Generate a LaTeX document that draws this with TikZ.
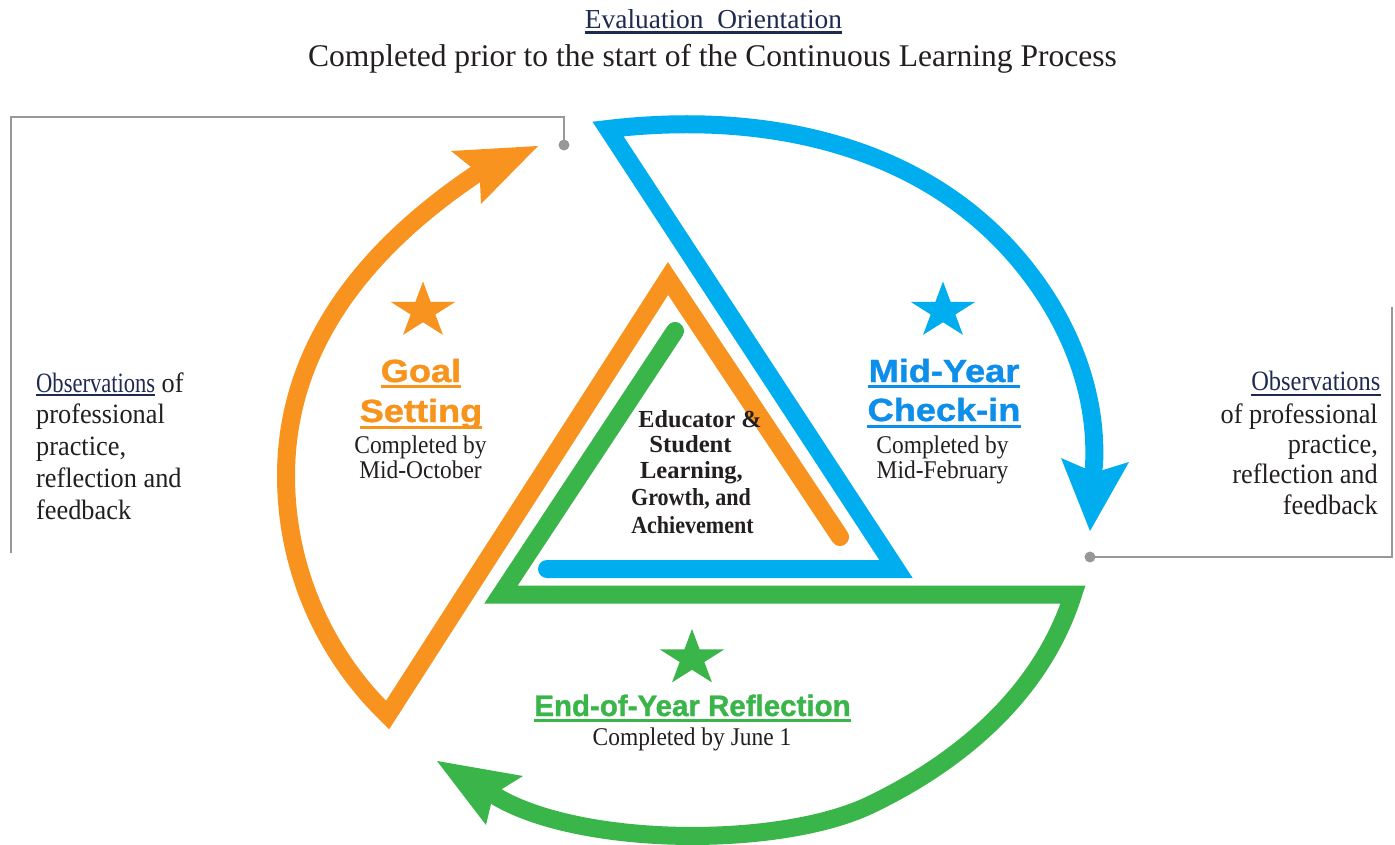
\documentclass[tikz,border=0pt]{standalone}
\usepackage{fontspec}
\usepackage{graphicx}
\usetikzlibrary{calc}
\setmainfont{Liberation Serif}
\newfontfamily\serifc{Liberation Serif}[FakeStretch=0.94]
\newfontfamily\serifs{Liberation Serif}[FakeStretch=0.92]
\newfontfamily\centerfont{Liberation Serif}[FakeStretch=0.9]
\newfontfamily\headfont{Liberation Sans}[FakeStretch=1.13,BoldFeatures={FakeBold=1.2}]
\newfontfamily\headfontb{Liberation Sans}[BoldFeatures={FakeBold=1.2}]
\definecolor{cOrange}{HTML}{F7931E}
\definecolor{cBlue}{HTML}{00AEEF}
\definecolor{cGreen}{HTML}{39B54A}
\definecolor{cGray}{HTML}{97989A}
\definecolor{cNavy}{HTML}{1F2A50}
\definecolor{cText}{HTML}{231F20}
\definecolor{cOrangeT}{HTML}{F7941D}
\definecolor{cBlueT}{HTML}{0D8EEA}
\definecolor{cGreenT}{HTML}{3AB54A}
\tikzset{
 band/.style={line width=18pt, line join=miter, miter limit=10, line cap=round},
 grayline/.style={cGray, line width=2.5pt},
 ttl/.style={anchor=base, inner sep=0pt, text=cText, font=\fontsize{31.55}{36}\selectfont},
 ttlA/.style={anchor=base, inner sep=0pt, text=cNavy, font=\fontsize{27.4}{32}\selectfont},
 obs/.style={inner sep=0pt, text=cText, font=\serifc\fontsize{28}{32}\selectfont},
 ctr/.style={anchor=base, inner sep=0pt, text=cText, font=\centerfont\bfseries\fontsize{24.5}{27}\selectfont},
 sub/.style={anchor=base, inner sep=0pt, text=cText, font=\serifs\fontsize{25.5}{28}\selectfont},
 head/.style={anchor=base, inner sep=0pt, font=\headfont\bfseries\fontsize{32}{36}\selectfont},
 headE/.style={anchor=base, inner sep=0pt, font=\headfontb\bfseries\fontsize{29.5}{34}\selectfont},
 uline/.style={line width=3pt},
 pics/starshape/.style={code={\fill[xscale=1.15] (-90:29.5) -- (-54:11.3) -- (-18:29.5) -- (18:11.3) -- (54:29.5) -- (90:11.3) -- (126:29.5) -- (162:11.3) -- (198:29.5) -- (234:11.3) -- cycle;}}
}
\newcommand\ulnode[3]{\draw[uline,#3] ($(#1.base west)+(0,#2)$) -- ($(#1.base east)+(0,#2)$);}
\begin{document}
\begin{tikzpicture}[x=1pt,y=-1pt]
\useasboundingbox (0,0) rectangle (1395,845);
\fill[white] (0,0) rectangle (1395,845);

% ---------- gray brackets ----------
\coordinate (gL) at (564,145);
\coordinate (gL1) at (564,117);
\coordinate (gL2) at (11,117);
\coordinate (gL3) at (11,553);
\draw[grayline] (gL) -- (gL1) -- (gL2) -- (gL3);
\fill[cGray] (gL) circle (5.5);
\coordinate (gR) at (1090,557);
\coordinate (gR1) at (1392,557);
\coordinate (gR2) at (1392,307);
\draw[grayline] (gR) -- (gR1) -- (gR2);
\fill[cGray] (gR) circle (5.5);

% ---------- blue ----------
\coordinate (bS) at (547,569);
\coordinate (bC) at (896,569);
\coordinate (bA) at (608,129);
\coordinate (bM) at (1018,259);
\coordinate (bE) at (1094,466);
\draw[band, cBlue] (bS) -- (bC) -- (bA) .. controls (760,111) and (919,142) .. (bM) .. controls (1068,318) and (1098,391) .. (bE);
\fill[cBlue] (1061,458) -- (1090,531) -- (1129,462) -- (1103,470) -- (1084,468) -- cycle;

% ---------- orange ----------
\coordinate (oS) at (840,537);
\coordinate (oA) at (668,278.5);
\coordinate (oE) at (475.5,174.5);
\draw[band, cOrange] (oS) -- (oA) -- plot[domain=133.95:180, samples=40] ({618+332*cos(\x)},{476+332*sin(\x)}) .. controls (286,347) and (365,249) .. (oE);
\fill[cOrange] (538,146) -- (451,151) -- (471,167) -- (480,182) -- (481,204) -- cycle;

% ---------- green ----------
\coordinate (gS) at (675,331);
\coordinate (gB) at (501,594.5);
\coordinate (gC) at (1073,594.5);
\coordinate (gM) at (870,805);
\coordinate (gE) at (497,797);
\draw[band, cGreen] (gS) -- (gB) -- (gC) .. controls (1042,692) and (962,761) .. (gM) .. controls (780,848) and (583,847) .. (gE);
\fill[cGreen] (437,761) -- (523,776) -- (502,789) -- (491,804) -- (486,825) -- cycle;

% ---------- stars ----------
\pic[cOrange] at (423,311) {starshape};
\pic[cBlue] at (943,311) {starshape};
\pic[cGreen] at (692,658.5) {starshape};

% ---------- title ----------
\node[ttlA] (t1) at (713.5,28.3) {Evaluation~ Orientation};
\ulnode{t1}{4}{cNavy, line width=2.6pt}
\node[ttl] (t2) at (712.5,67) {Completed prior to the start of the Continuous Learning Process};

% ---------- left observations ----------
\node[obs, anchor=base west, text=cNavy] (lo1) at (36,392) {\scalebox{0.857}[1]{Observations}};
\ulnode{lo1}{3}{cNavy, line width=2.7pt}
\node[obs, anchor=base west] (lo1b) at ($(lo1.base east)+(6,0)$) {of};
\node[obs, anchor=base west] (lo2) at (36,423) {professional};
\node[obs, anchor=base west] (lo3) at (36,455) {practice,};
\node[obs, anchor=base west] (lo4) at (36,487) {reflection and};
\node[obs, anchor=base west] (lo5) at (36,519) {feedback};

% ---------- right observations ----------
\node[obs, anchor=base east, text=cNavy] (ro1) at (1380.5,390) {\scalebox{0.929}[1]{Observations}};
\ulnode{ro1}{5}{cNavy, line width=2.8pt}
\node[obs, anchor=base east] (ro2) at (1378,423) {of professional};
\node[obs, anchor=base east] (ro3) at (1378,453) {practice,};
\node[obs, anchor=base east] (ro4) at (1378,483) {reflection and};
\node[obs, anchor=base east] (ro5) at (1378,514) {feedback};

% ---------- goal setting ----------
\node[head, text=cOrangeT] (g1) at (421,382) {Goal};
\ulnode{g1}{4}{cOrangeT}
\node[head, text=cOrangeT] (g2) at (421,422) {Setting};
\ulnode{g2}{5}{cOrangeT}
\node[sub] (g3) at (420.5,453) {Completed by};
\node[sub] (g4) at (420.5,478) {Mid-October};

% ---------- mid-year ----------
\node[head, text=cBlueT] (m1) at (944,382) {Mid-Year};
\ulnode{m1}{4}{cBlueT}
\node[head, text=cBlueT] (m2) at (944,421) {Check-in};
\ulnode{m2}{5}{cBlueT}
\node[sub] (m3) at (942.5,453) {Completed by};
\node[sub] (m4) at (942.5,478) {Mid-February};

% ---------- end-of-year ----------
\node[headE, text=cGreenT] (e1) at (692.5,716) {End-of-Year Reflection};
\ulnode{e1}{4.5}{cGreenT}
\node[sub] (e2) at (692,745) {Completed by June 1};

% ---------- center ----------
\node[ctr] (c1) at (700,427) {\scalebox{1.1}[1]{Educator \&}};
\node[ctr] (c2) at (690.5,452) {\scalebox{1.12}[1]{Student}};
\node[ctr] (c3) at (691.5,478) {\scalebox{1.11}[1]{Learning,}};
\node[ctr] (c4) at (691,505) {Growth, and};
\node[ctr] (c5) at (692.5,533) {Achievement};
\end{tikzpicture}
\end{document}
